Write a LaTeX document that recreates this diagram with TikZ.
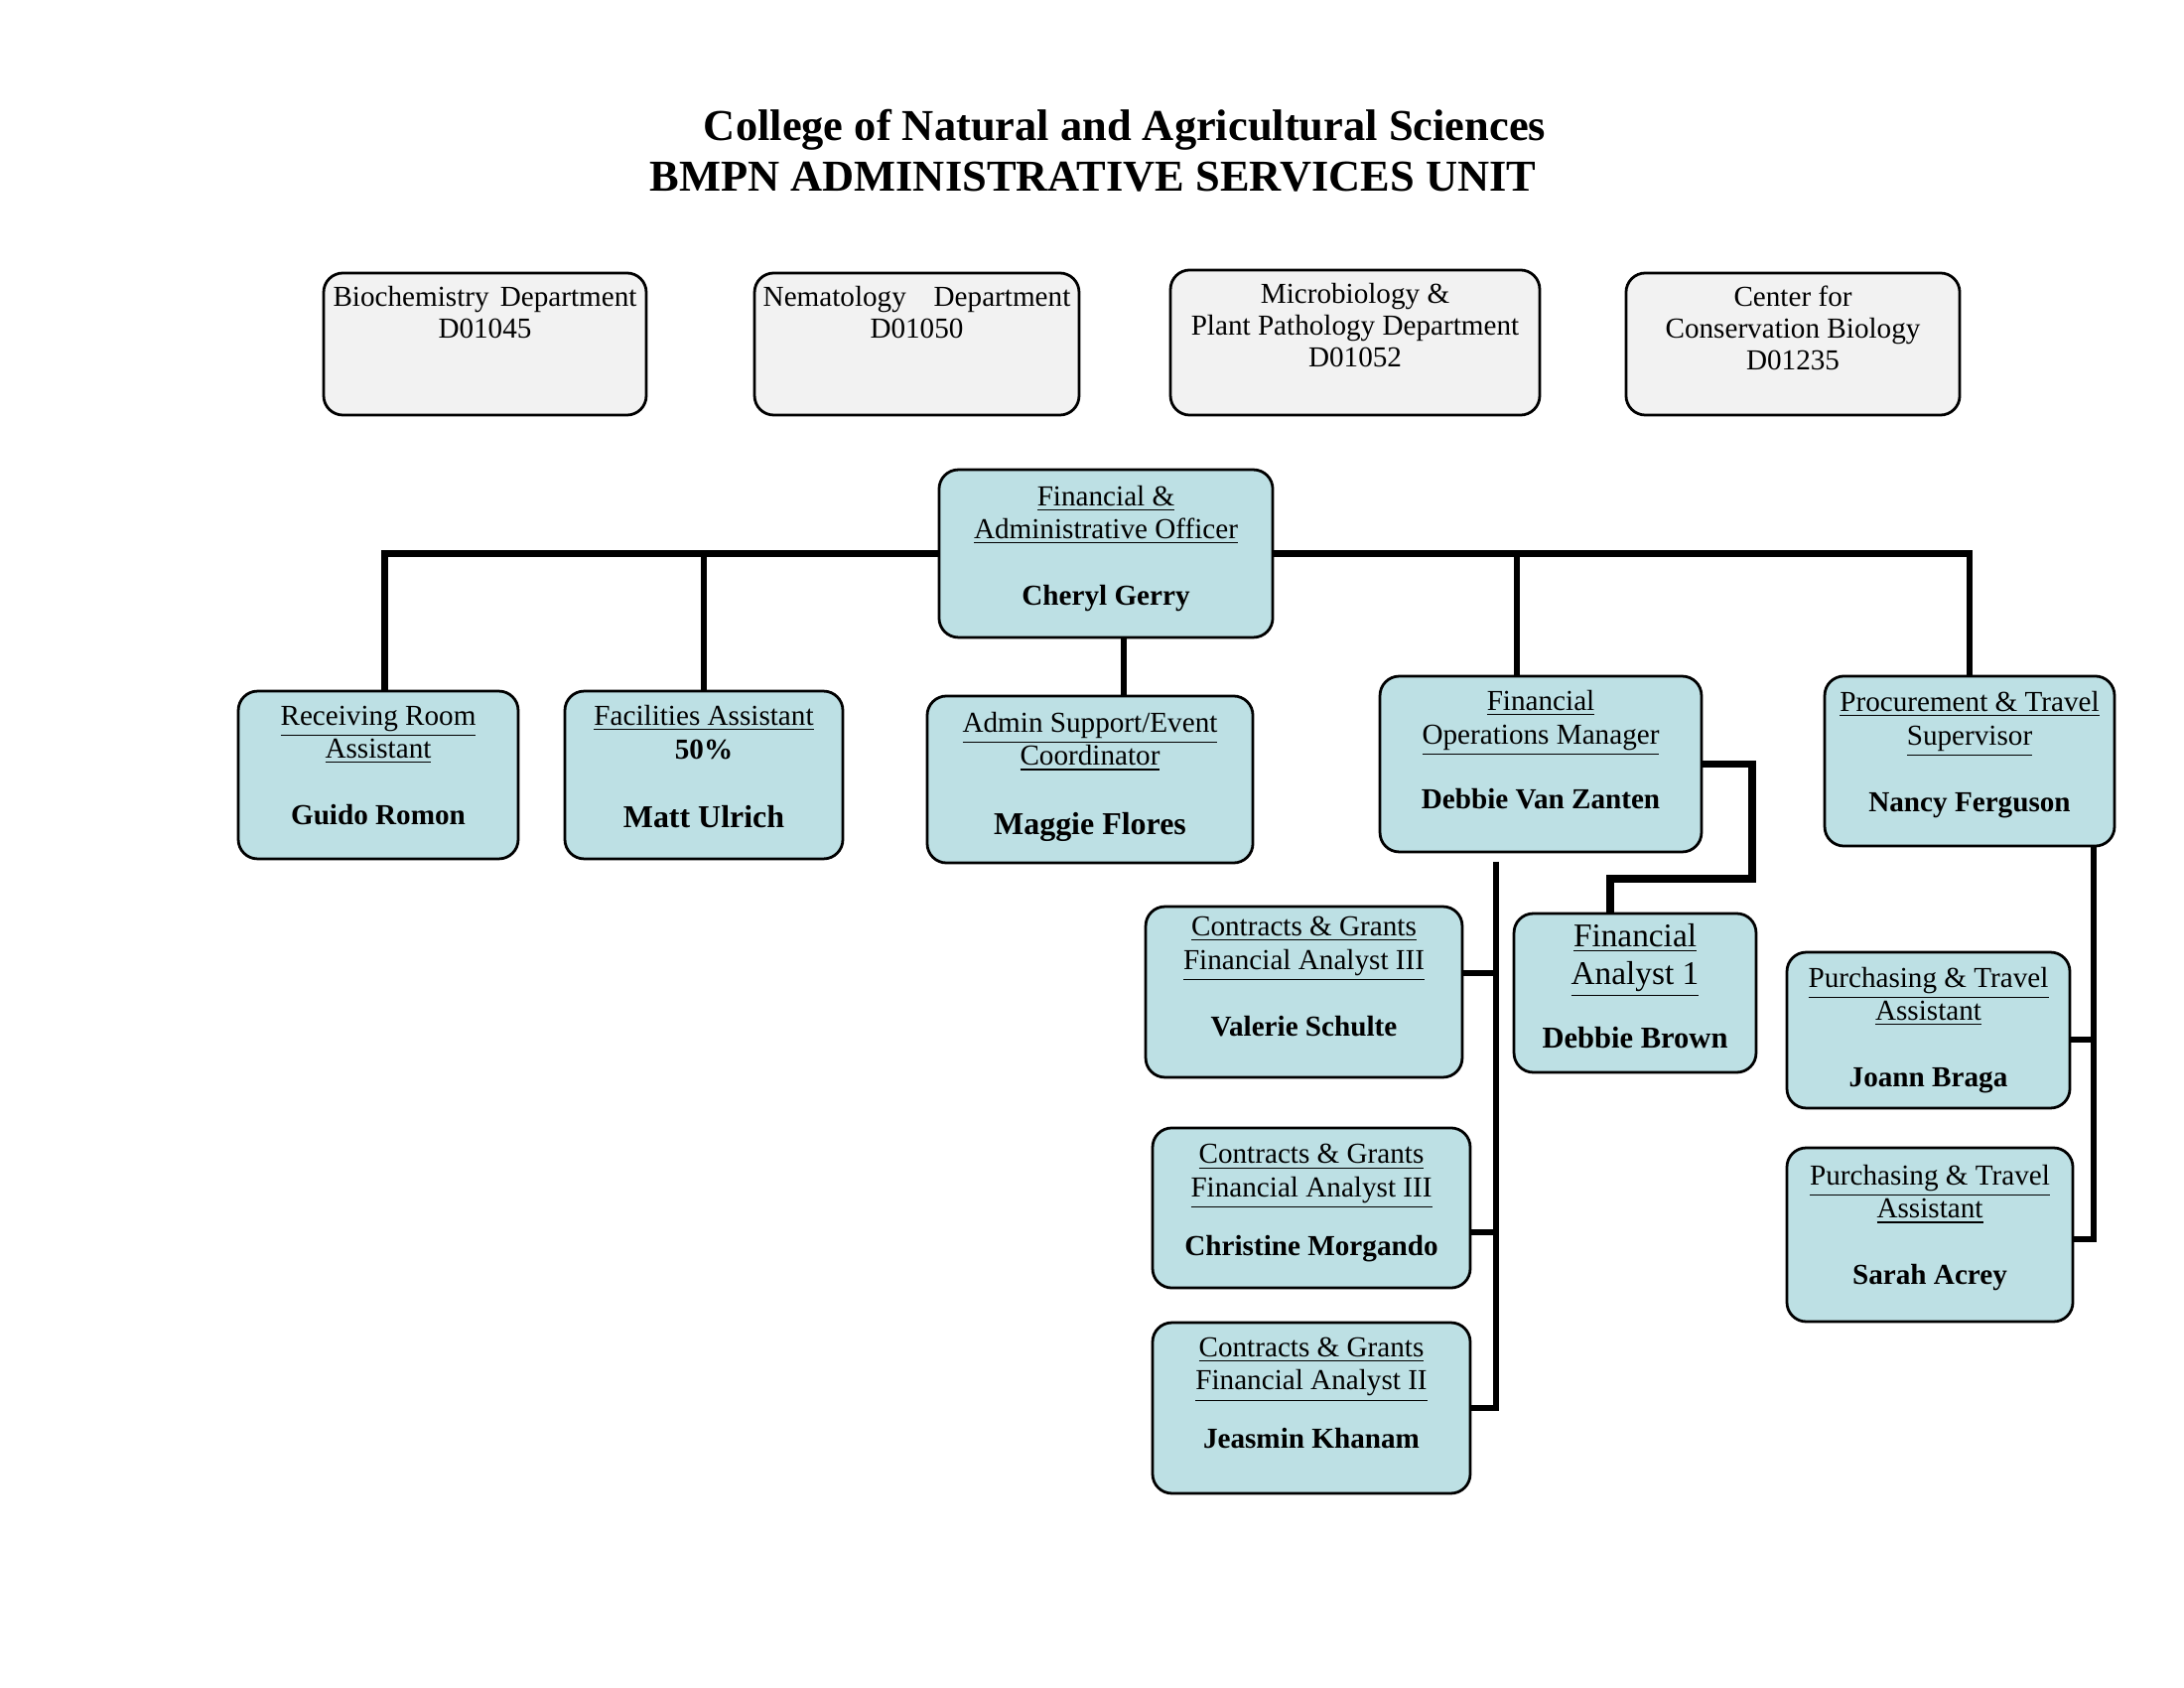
\documentclass[tikz,border=0pt]{standalone}
\usepackage{fontspec}
\setmainfont{Liberation Serif}
\usepackage{xcolor}
\usetikzlibrary{positioning}
\definecolor{boxblue}{RGB}{189,224,228}
\definecolor{deptgray}{RGB}{242,242,242}
\tikzset{
  unitbox/.style={draw, line width=1pt, rounded corners=7pt, fill=boxblue, align=center, inner sep=0pt,
    font=\fontsize{10.5}{12.1}\selectfont, execute at end node={\rule[-#1]{0pt}{1pt}}},
  unitbox/.default=7pt,
  deptbox/.style={draw, line width=1pt, rounded corners=7pt, fill=deptgray, inner sep=0pt},
  depttext/.style={align=center, inner sep=0pt, font=\fontsize{10.5}{11.6}\selectfont},
  titletext/.style={inner sep=0pt, font=\fontsize{16}{19}\selectfont\bfseries},
  link/.style={line width=2.3pt},
}
\begin{document}
\begin{tikzpicture}[x=0.36pt, y=-0.36pt]
\useasboundingbox (0,0) rectangle (2200,1700);

% Title
\node[titletext] (title) at (1133,131) {College of Natural and Agricultural Sciences};
\node[titletext] (subtitle) at (1101,178) {BMPN ADMINISTRATIVE SERVICES UNIT};

% Departments
\node[deptbox, minimum width=117pt, minimum height=51.5pt] (bio) at (488.5,346.5) {};
\node[depttext, below=5pt of bio.north] (biotext) {Biochemistry\hspace{4pt}Department\\D01045};
\node[deptbox, minimum width=117.7pt, minimum height=51.5pt] (nem) at (923.5,346.5) {};
\node[depttext, below=5pt of nem.north] (nemtext) {Nematology\hspace{10pt}Department\\D01050};
\node[deptbox, minimum width=133.9pt, minimum height=52.6pt] (mic) at (1365,345) {};
\node[depttext, below=5pt of mic.north] (mictext) {Microbiology \&\\Plant Pathology Department\\D01052};
\node[deptbox, minimum width=121pt, minimum height=51.5pt] (ccb) at (1806,346.5) {};
\node[depttext, below=5pt of ccb.north] (ccbtext) {Center for\\Conservation Biology\\D01235};

% Officer
\node[unitbox=6pt, minimum width=121pt, minimum height=60.8pt] (off) at (1114,557.5) {\underline{Financial \&}\\\underline{Administrative Officer}\\[12pt]\textbf{Cheryl Gerry}};

% First row
\node[unitbox, minimum width=101.5pt, minimum height=60.8pt] (rr) at (381,780.5) {\underline{Receiving Room}\\\underline{Assistant}\\[12pt]\textbf{Guido Romon}};
\node[unitbox=6pt, minimum width=100.8pt, minimum height=60.8pt] (fa) at (709,780.5) {\underline{Facilities Assistant}\\\textbf{50\%}\\[13pt]\fontsize{11.5}{12.1}\selectfont\textbf{Matt Ulrich}};
\node[unitbox=4.5pt, minimum width=118.1pt, minimum height=60.5pt] (as) at (1098,785) {\underline{Admin Support/Event}\\\underline{Coordinator}\\[13pt]\fontsize{11.5}{12.1}\selectfont\textbf{Maggie Flores}};
\node[unitbox=10.3pt, minimum width=116.6pt, minimum height=63.7pt] (fom) at (1552,769.5) {\underline{Financial}\\\underline{Operations Manager}\\[11.5pt]\textbf{Debbie Van Zanten}};
\node[unitbox, minimum width=105.1pt, minimum height=61.6pt] (pts) at (1984,766.5) {\underline{Procurement \& Travel}\\\underline{Supervisor}\\[12pt]\textbf{Nancy Ferguson}};

% Financial operations staff
\node[unitbox=5pt, minimum width=87.8pt, minimum height=57.6pt] (fa1) at (1647,1000) {\fontsize{12}{12.1}\selectfont\underline{Financial}\\[1.6pt]\fontsize{12}{12.1}\selectfont\underline{Analyst 1}\\[10pt]\fontsize{11}{12.1}\selectfont\textbf{Debbie Brown}};
\node[unitbox=11.3pt, minimum width=114.8pt, minimum height=61.9pt] (cg1) at (1313.5,999) {\underline{Contracts \& Grants}\\\underline{Financial Analyst III}\\[12pt]\textbf{Valerie Schulte}};
\node[unitbox=5.9pt, minimum width=115.2pt, minimum height=58pt] (cg2) at (1321,1216.5) {\underline{Contracts \& Grants}\\\underline{Financial Analyst III}\\[9pt]\textbf{Christine Morgando}};
\node[unitbox=11pt, minimum width=115.2pt, minimum height=61.9pt] (cg3) at (1321,1418) {\underline{Contracts \& Grants}\\\underline{Financial Analyst II}\\[9pt]\textbf{Jeasmin Khanam}};

% Procurement staff
\node[unitbox=0pt, minimum width=102.6pt, minimum height=56.5pt] (pta1) at (1942.5,1037.5) {\underline{Purchasing \& Travel}\\\underline{Assistant}\\[12pt]\textbf{Joann Braga}};
\node[unitbox=7.3pt, minimum width=103.7pt, minimum height=63pt] (pta2) at (1944,1243.5) {\underline{Purchasing \& Travel}\\\underline{Assistant}\\[12pt]\textbf{Sarah Acrey}};

% Connectors
\draw[link] ([xshift=2.3pt]rr.north) |- (off.west);
\draw[link] (fa.north) |- (off.west);
\draw[link] ([xshift=-8.6pt]fom.north) |- (off.east);
\draw[link] (pts.north) |- (off.east);
\coordinate (offdrop) at ([xshift=6.5pt]off.south);
\draw[link] (offdrop) -- (offdrop |- as.north);

\coordinate (fa1top) at ([xshift=-9pt]fa1.north);
\draw[link, line width=2.8pt] (fom.east) -- ++(50,0) |- ([yshift=12.2pt]fa1top) -- (fa1top);

\coordinate (fomline) at ([xshift=-16.2pt, yshift=-3pt]fom.south);
\coordinate (cg1s) at ([yshift=6.8pt]cg1.east);
\coordinate (cg2s) at ([yshift=-8.8pt]cg2.east);
\draw[link] (fomline) |- (cg3.east);
\draw[link] (cg1s) -- (cg1s -| fomline);
\draw[link] (cg2s) -- (cg2s -| fomline);

\coordinate (ptsline) at ([xshift=45pt]pts.south);
\coordinate (pta1s) at ([yshift=-3.4pt]pta1.east);
\coordinate (pta2s) at ([yshift=-1.6pt]pta2.east);
\draw[link] (ptsline) |- (pta2s);
\draw[link] (pta1s) -- (pta1s -| ptsline);
\end{tikzpicture}
\end{document}
